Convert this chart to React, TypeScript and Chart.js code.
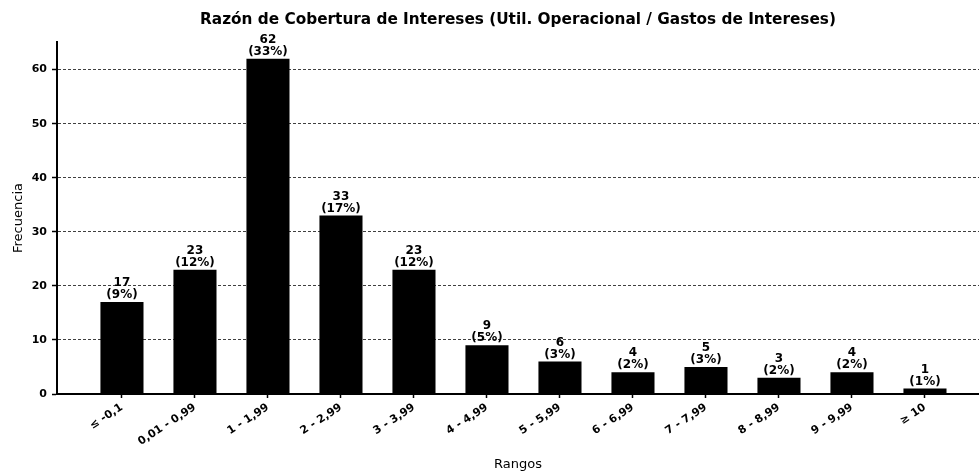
import React, { useEffect, useRef } from "react";
import { Chart, registerables } from "chart.js";

Chart.register(...registerables);

const categories = [
  "≤ -0,1", "0,01 - 0,99", "1 - 1,99", "2 - 2,99", "3 - 3,99", "4 - 4,99",
  "5 - 5,99", "6 - 6,99", "7 - 7,99", "8 - 8,99", "9 - 9,99", "≥ 10",
];
const counts = [17, 23, 62, 33, 23, 9, 6, 4, 5, 3, 4, 1];
const percentLabels = ["9%", "12%", "33%", "17%", "12%", "5%", "3%", "2%", "3%", "2%", "2%", "1%"];
const yTicks = [0, 10, 20, 30, 40, 50, 60];
const TITLE = "Razón de Cobertura de Intereses (Util. Operacional / Gastos de Intereses)";

const FONT = "'DejaVu Sans', sans-serif";

const barLabelPlugin = {
  id: "barLabels",
  afterDatasetsDraw(chart: any) {
    const ctx = chart.ctx;
    const meta = chart.getDatasetMeta(0);
    ctx.save();
    ctx.fillStyle = "#000";
    ctx.font = `bold 12px ${FONT}`;
    ctx.textAlign = "center";
    ctx.textBaseline = "middle";
    meta.data.forEach((bar: any, i: number) => {
      ctx.fillText(String(counts[i]), bar.x, bar.y - 19);
      ctx.fillText(`(${percentLabels[i]})`, bar.x, bar.y - 7);
    });
    ctx.restore();
  },
};

const plotTitlePlugin = {
  id: "plotTitle",
  afterDraw(chart: any) {
    const ctx = chart.ctx;
    const { left, right } = chart.chartArea;
    ctx.save();
    ctx.fillStyle = "#000";
    ctx.font = `bold 15.3px ${FONT}`;
    ctx.textAlign = "center";
    ctx.textBaseline = "middle";
    ctx.fillText(TITLE, (left + right) / 2, 20);
    ctx.restore();
  },
};

export default function App() {
  const ref = useRef<HTMLCanvasElement | null>(null);
  useEffect(() => {
    if (!ref.current) return;
    const chart = new Chart(ref.current, {
      type: "bar",
      data: {
        datasets: [
          {
            data: counts.map((c, i) => ({ x: i, y: c })),
            backgroundColor: "#000",
            borderWidth: 0,
            barPercentage: 0.59,
            categoryPercentage: 1,
          },
        ],
      },
      options: {
        responsive: false,
        animation: false,
        layout: { padding: { top: 42 } },
        plugins: {
          legend: { display: false },
          tooltip: { enabled: false },
          title: { display: false },
        },
        scales: {
          x: {
            type: "linear",
            offset: false,
            min: -0.89,
            max: 11.74,
            afterBuildTicks: (scale: any) => {
              scale.ticks = categories.map((_, i) => ({ value: i }));
            },
            afterFit: (scale: any) => {
              scale.height = 82;
            },
            ticks: {
              autoSkip: false,
              minRotation: 33,
              maxRotation: 33,
              padding: 3,
              color: "#000",
              font: { family: FONT, size: 11, weight: "bold" },
              callback: (v: any) => categories[Math.round(Number(v))] ?? "",
            },
            grid: {
              offset: false,
              drawOnChartArea: false,
              drawTicks: true,
              tickLength: 4,
              tickColor: "#000",
              tickWidth: 1.5,
            },
            border: { display: true, color: "#000", width: 2 },
            title: {
              display: true,
              text: "Rangos",
              color: "#000",
              font: { family: FONT, size: 13 },
              padding: { top: 0, bottom: 4 },
            },
          },
          y: {
            type: "linear",
            min: 0,
            max: 65.1,
            afterBuildTicks: (scale: any) => {
              scale.ticks = yTicks.map((v) => ({ value: v }));
            },
            afterFit: (scale: any) => {
              scale.width = 57;
            },
            ticks: {
              padding: 5,
              color: "#000",
              font: { family: FONT, size: 11, weight: "bold" },
            },
            grid: {
              color: "rgba(0,0,0,0.75)",
              lineWidth: 1,
              drawTicks: true,
              tickLength: 5,
              tickColor: "#000",
              tickWidth: 1.5,
              tickBorderDash: [],
            },
            border: { display: true, color: "#000", width: 2, dash: [3, 2] },
            title: {
              display: true,
              text: "Frecuencia",
              color: "#000",
              font: { family: FONT, size: 13 },
              padding: { top: 11, bottom: 0 },
            },
          },
        },
      },
      plugins: [barLabelPlugin, plotTitlePlugin],
    } as any);
    return () => chart.destroy();
  }, []);
  return (
    <div style={{ position: "absolute", left: 0, top: 0, width: 979, height: 476, background: "#fff" }}>
      <canvas ref={ref} width={979} height={476} />
    </div>
  );
}
